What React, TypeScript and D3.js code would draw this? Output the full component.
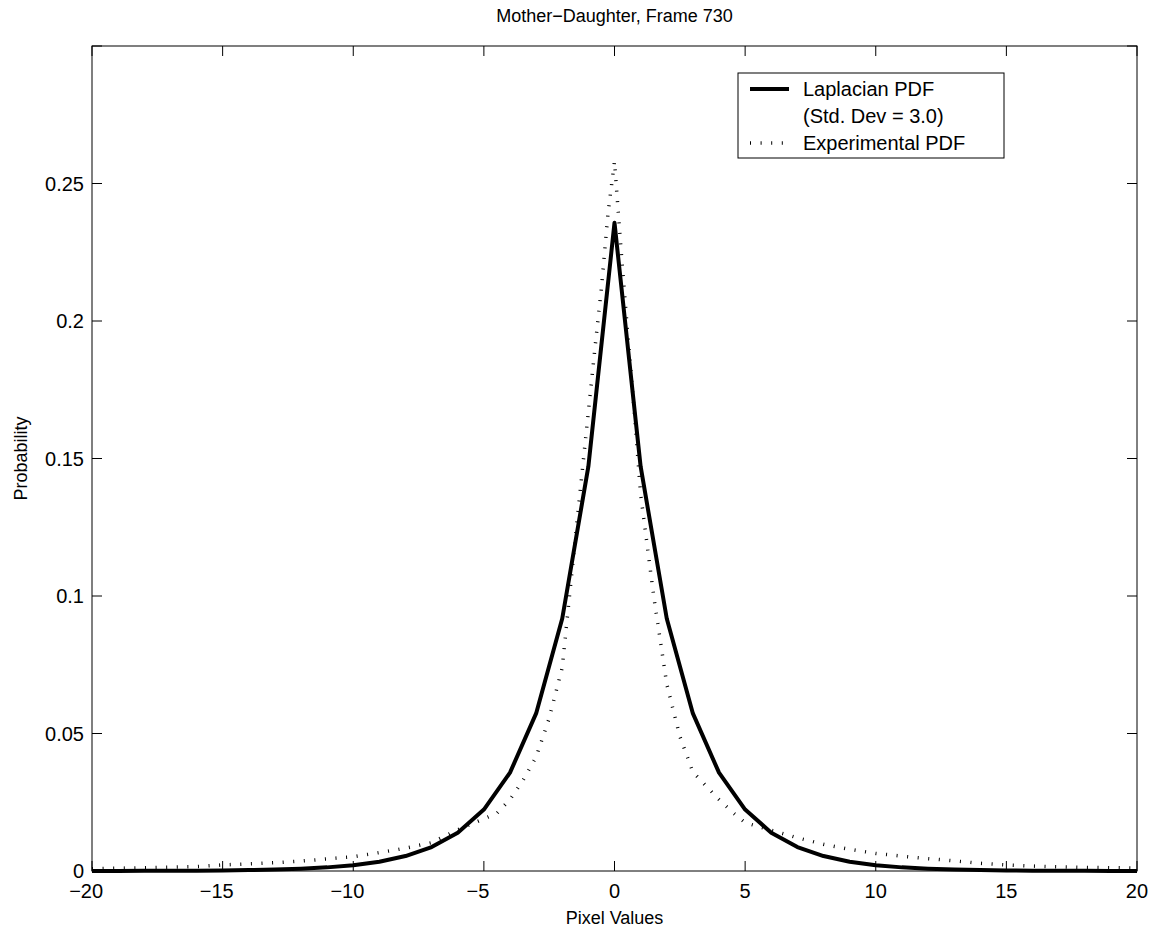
import React from "react";
import * as d3 from "d3";

const lapX = [-20,-19,-18,-17,-16,-15,-14,-13,-12,-11,-10,-9,-8,-7,-6,-5,-4,-3,-2,-1,0,1,2,3,4,5,6,7,8,9,10,11,12,13,14,15,16,17,18,19,20];
const lapY = [0.00002,0.00003,0.00005,0.00008,0.00012,0.0002,0.00032,0.00051,0.00082,0.00132,0.00211,0.00339,0.00543,0.00869,0.01393,0.02232,0.03576,0.0573,0.09181,0.14711,0.2357,0.14711,0.09181,0.0573,0.03576,0.02232,0.01393,0.00869,0.00543,0.00339,0.00211,0.00132,0.00082,0.00051,0.00032,0.0002,0.00012,0.00008,0.00005,0.00003,0.00002];

const expX = [-20,-19,-18,-17,-16,-15,-14,-13,-12,-11,-10,-9,-8,-7,-6,-5,-4.5,-4,-3.5,-3,-2.5,-2,-1.5,-1,-0.75,-0.5,-0.25,0,0.25,0.5,0.75,1,1.5,2,2.5,3,3.5,4,4.5,5,6,7,8,9,10,11,12,13,14,15,16,17,18,19,20];
const expY = [0.0008,0.001,0.0012,0.0014,0.0016,0.0022,0.0026,0.003,0.0036,0.0044,0.0052,0.0067,0.0083,0.0103,0.015,0.019,0.021,0.026,0.033,0.0415,0.0555,0.074,0.121,0.167,0.19,0.212,0.239,0.258,0.226,0.196,0.168,0.137,0.1,0.068,0.049,0.036,0.031,0.026,0.0215,0.0176,0.0148,0.0121,0.0097,0.0079,0.0064,0.0054,0.0045,0.0037,0.0028,0.0022,0.0018,0.0015,0.0013,0.0012,0.0011];

const xTicks = [-20,-15,-10,-5,0,5,10,15,20];
const yTicks = [0,0.05,0.1,0.15,0.2,0.25,0.3];
const yTickLabels = ["0","0.05","0.1","0.15","0.2","0.25",""];

const titleText = "Mother\u2212Daughter, Frame 730";
const xLabel = "Pixel Values";
const yLabel = "Probability";
const legendLines = ["Laplacian PDF", "(Std. Dev = 3.0)", "Experimental PDF"];

const W = 1158, H = 933;
const L = 92, R = 1137, T = 46, B = 871;
const FS = 20;
const FONT = "'Liberation Sans', Arial, Helvetica, sans-serif";

function fmtX(v: number) {
  return v < 0 ? "\u2212" + Math.abs(v) : String(v);
}

export default function App() {
  const x = d3.scaleLinear().domain([-20, 20]).range([L, R]);
  const y = d3.scaleLinear().domain([0, 0.3]).range([B, T]);
  const gen = d3.line<[number, number]>().x(d => x(d[0])).y(d => y(d[1]));
  const lapPath = gen(lapX.map((v, i) => [v, lapY[i]] as [number, number]));
  const expPath = gen(expX.map((v, i) => [v, expY[i]] as [number, number]));
  const tl = 10;
  const digitW = 0.556 * FS;
  return (
    <svg width={W} height={H} style={{ position: "absolute", left: 0, top: 0, background: "#fff" }} fontFamily={FONT}>
      <rect x={0} y={0} width={W} height={H} fill="#fff" />
      {xTicks.map(t => (
        <g key={"xt" + t}>
          <line x1={x(t)} x2={x(t)} y1={B} y2={B - tl} stroke="#000" strokeWidth={1} />
          <line x1={x(t)} x2={x(t)} y1={T} y2={T + tl} stroke="#000" strokeWidth={1} />
          <text x={x(t) + (String(Math.abs(t)).length * digitW) / 2} y={B + 27} fontSize={FS} textAnchor="end">{fmtX(t)}</text>
        </g>
      ))}
      {yTicks.map((t, i) => (
        <g key={"yt" + t}>
          <line x1={L} x2={L + tl} y1={y(t)} y2={y(t)} stroke="#000" strokeWidth={1} />
          <line x1={R} x2={R - tl} y1={y(t)} y2={y(t)} stroke="#000" strokeWidth={1} />
          <text x={L - 8} y={y(t) + 7} fontSize={FS} textAnchor="end">{yTickLabels[i]}</text>
        </g>
      ))}
      <path d={expPath || ""} fill="none" stroke="#000" strokeWidth={3.5} strokeDasharray="1 9.6" />
      <path d={lapPath || ""} fill="none" stroke="#000" strokeWidth={4} strokeLinejoin="round" />
      <rect x={L} y={T} width={R - L} height={B - T} fill="none" stroke="#000" strokeWidth={1} />
      <rect x={738} y={73} width={266} height={85} fill="#fff" stroke="#000" strokeWidth={1} />
      <line x1={750} x2={789} y1={89} y2={89} stroke="#000" strokeWidth={4} />
      <line x1={750} x2={789} y1={143} y2={143} stroke="#000" strokeWidth={3.5} strokeDasharray="1 9.6" />
      <text x={803} y={96} fontSize={FS}>{legendLines[0]}</text>
      <text x={803} y={123} fontSize={FS}>{legendLines[1]}</text>
      <text x={803} y={150} fontSize={FS}>{legendLines[2]}</text>
      <text x={(L + R) / 2} y={22} fontSize={FS * 0.9} textAnchor="middle">{titleText}</text>
      <text x={(L + R) / 2} y={924} fontSize={FS * 0.9} textAnchor="middle">{xLabel}</text>
      <text transform={`translate(27,${(T + B) / 2}) rotate(-90)`} fontSize={FS * 0.9} textAnchor="middle">{yLabel}</text>
    </svg>
  );
}
